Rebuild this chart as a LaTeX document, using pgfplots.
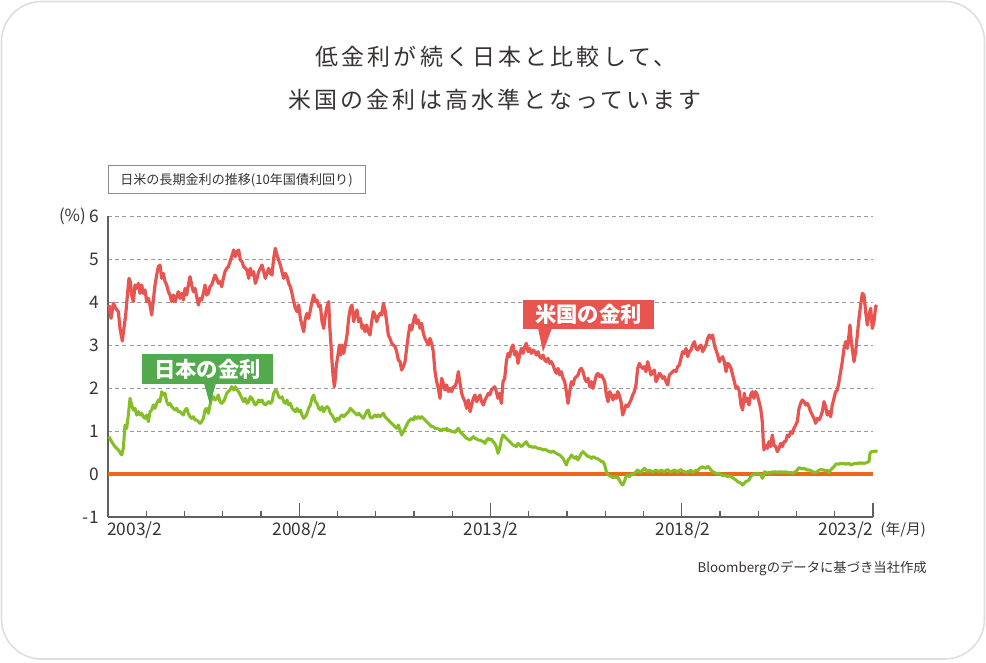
\documentclass[border=0pt]{standalone}
\usepackage{fontspec}
\setmainfont{Noto Sans CJK JP}
\newfontfamily\titlefont[LetterSpace=14]{Noto Sans CJK JP}
\usepackage{pgfplots}
\usepackage{pgfplotstable}
\pgfplotsset{compat=1.18}

\definecolor{usred}{RGB}{232,84,80}
\definecolor{jpgreen}{RGB}{133,190,38}
\definecolor{jplab}{RGB}{82,170,76}
\definecolor{zeroorange}{RGB}{234,104,24}
\definecolor{gridgray}{RGB}{155,155,155}
\definecolor{axisgray}{RGB}{100,95,95}
\definecolor{textgray}{RGB}{55,52,51}
\definecolor{boxgray}{RGB}{140,140,140}
\definecolor{cardgray}{RGB}{222,222,222}

\pgfplotstableread{
x y
2003.110 3.930
2003.162 3.620
2003.223 3.969
2003.284 3.853
2003.354 3.775
2003.397 3.387
2003.458 3.093
2003.510 3.465
2003.545 3.698
2003.598 4.240
2003.632 4.550
2003.667 4.473
2003.702 4.163
2003.746 4.008
2003.789 4.395
2003.833 4.318
2003.877 4.434
2003.920 4.201
2003.964 4.395
2004.007 4.201
2004.051 4.279
2004.094 4.008
2004.138 4.085
2004.182 3.930
2004.225 3.698
2004.269 4.046
2004.312 4.395
2004.356 4.628
2004.399 4.822
2004.443 4.860
2004.487 4.550
2004.530 4.667
2004.574 4.473
2004.617 4.395
2004.661 4.240
2004.704 4.163
2004.748 4.008
2004.792 4.163
2004.835 4.008
2004.879 4.124
2004.922 4.240
2004.966 4.085
2005.009 4.201
2005.053 4.046
2005.097 4.318
2005.140 4.163
2005.184 4.395
2005.227 4.589
2005.271 4.395
2005.314 4.240
2005.358 4.318
2005.402 4.124
2005.445 3.930
2005.489 4.085
2005.532 4.046
2005.576 4.201
2005.620 4.395
2005.663 4.163
2005.707 4.201
2005.750 4.356
2005.794 4.395
2005.837 4.512
2005.881 4.628
2005.925 4.550
2005.968 4.434
2006.012 4.473
2006.055 4.356
2006.099 4.550
2006.142 4.705
2006.186 4.783
2006.230 4.822
2006.273 4.938
2006.317 5.054
2006.369 5.209
2006.412 5.054
2006.456 5.170
2006.499 5.209
2006.543 4.977
2006.586 4.938
2006.630 4.822
2006.674 4.783
2006.717 4.744
2006.761 4.550
2006.804 4.783
2006.848 4.628
2006.891 4.705
2006.935 4.434
2006.979 4.550
2007.022 4.705
2007.066 4.783
2007.109 4.860
2007.153 4.705
2007.197 4.550
2007.240 4.667
2007.284 4.783
2007.327 4.667
2007.371 4.628
2007.414 5.015
2007.458 5.248
2007.502 5.093
2007.545 4.977
2007.589 4.860
2007.632 4.705
2007.676 4.550
2007.719 4.667
2007.763 4.589
2007.807 4.434
2007.850 4.356
2007.894 4.201
2007.937 4.008
2007.981 3.853
2008.024 3.775
2008.068 3.930
2008.112 3.620
2008.155 3.465
2008.199 3.310
2008.242 3.620
2008.286 3.736
2008.329 3.620
2008.373 3.814
2008.417 4.008
2008.460 4.163
2008.504 4.008
2008.547 4.046
2008.591 3.891
2008.634 3.930
2008.678 3.543
2008.722 3.387
2008.765 3.698
2008.809 3.891
2008.852 4.008
2008.878 3.465
2008.913 3.000
2008.940 2.612
2008.966 2.302
2009.000 2.031
2009.027 2.225
2009.053 2.535
2009.096 2.767
2009.131 3.000
2009.166 2.767
2009.201 3.000
2009.245 2.806
2009.288 3.000
2009.332 3.232
2009.375 3.620
2009.419 3.853
2009.462 3.930
2009.506 3.543
2009.550 3.736
2009.593 3.814
2009.637 3.543
2009.680 3.620
2009.724 3.387
2009.758 3.465
2009.802 3.310
2009.845 3.465
2009.889 3.310
2009.932 3.232
2009.976 3.543
2010.020 3.775
2010.063 3.698
2010.107 3.543
2010.150 3.659
2010.194 3.736
2010.237 3.698
2010.281 3.969
2010.325 3.814
2010.368 3.543
2010.412 3.232
2010.455 3.155
2010.499 3.039
2010.543 3.000
2010.586 2.961
2010.630 2.845
2010.673 2.651
2010.717 2.612
2010.760 2.418
2010.804 2.496
2010.848 2.612
2010.891 2.922
2010.935 3.232
2010.978 3.465
2011.022 3.349
2011.065 3.543
2011.109 3.698
2011.153 3.504
2011.196 3.581
2011.240 3.387
2011.283 3.504
2011.327 3.271
2011.370 3.155
2011.414 3.077
2011.458 3.000
2011.501 3.155
2011.545 3.039
2011.588 2.845
2011.632 2.380
2011.675 2.147
2011.719 1.992
2011.763 1.760
2011.806 2.225
2011.850 2.108
2011.893 1.953
2011.937 2.070
2011.980 1.915
2012.024 1.992
2012.068 1.915
2012.111 2.031
2012.155 2.031
2012.198 2.147
2012.242 2.380
2012.286 2.108
2012.329 1.876
2012.373 1.760
2012.416 1.682
2012.460 1.527
2012.503 1.721
2012.547 1.450
2012.591 1.605
2012.634 1.760
2012.678 1.837
2012.721 1.682
2012.765 1.760
2012.808 1.837
2012.852 1.682
2012.896 1.605
2012.939 1.721
2012.983 1.798
2013.026 1.876
2013.062 1.837
2013.105 1.953
2013.149 1.992
2013.192 2.031
2013.236 1.915
2013.279 1.760
2013.323 1.876
2013.367 1.643
2013.410 2.147
2013.454 2.225
2013.497 2.612
2013.541 2.806
2013.584 2.729
2013.628 2.922
2013.672 3.000
2013.715 2.767
2013.759 2.845
2013.802 2.573
2013.846 2.767
2013.890 2.922
2013.933 2.806
2013.977 2.961
2014.020 3.039
2014.064 2.845
2014.107 2.922
2014.151 2.806
2014.195 2.884
2014.238 2.845
2014.282 2.767
2014.325 2.845
2014.369 2.729
2014.412 2.690
2014.456 2.767
2014.500 2.651
2014.543 2.612
2014.587 2.690
2014.630 2.573
2014.674 2.612
2014.717 2.535
2014.761 2.418
2014.805 2.341
2014.848 2.457
2014.892 2.302
2014.935 2.380
2014.979 2.225
2015.022 2.147
2015.066 1.915
2015.110 1.643
2015.153 1.915
2015.197 2.147
2015.240 2.070
2015.284 2.225
2015.327 2.263
2015.371 2.302
2015.415 2.418
2015.458 2.457
2015.502 2.380
2015.545 2.225
2015.589 2.147
2015.633 2.225
2015.676 2.031
2015.720 2.147
2015.763 1.992
2015.807 2.147
2015.850 2.302
2015.894 2.341
2015.938 2.263
2015.981 2.302
2016.025 2.225
2016.068 2.147
2016.112 1.837
2016.155 1.682
2016.199 1.915
2016.243 1.837
2016.286 1.721
2016.330 1.837
2016.373 1.760
2016.408 1.915
2016.451 1.837
2016.495 1.682
2016.538 1.372
2016.582 1.488
2016.625 1.605
2016.669 1.566
2016.713 1.643
2016.756 1.721
2016.800 1.837
2016.843 1.915
2016.887 2.070
2016.930 2.457
2016.974 2.573
2017.018 2.496
2017.061 2.457
2017.105 2.496
2017.148 2.380
2017.192 2.612
2017.236 2.457
2017.279 2.302
2017.323 2.380
2017.366 2.418
2017.410 2.147
2017.453 2.225
2017.497 2.341
2017.541 2.302
2017.584 2.225
2017.628 2.263
2017.671 2.147
2017.715 2.070
2017.758 2.302
2017.802 2.341
2017.846 2.380
2017.889 2.418
2017.933 2.380
2017.976 2.496
2018.020 2.535
2018.063 2.690
2018.107 2.845
2018.151 2.806
2018.194 2.922
2018.238 2.729
2018.281 2.845
2018.325 2.884
2018.368 3.000
2018.412 3.077
2018.456 2.922
2018.499 2.884
2018.543 2.961
2018.586 3.000
2018.630 2.845
2018.673 2.922
2018.717 3.000
2018.761 3.155
2018.804 3.232
2018.848 3.155
2018.891 3.232
2018.935 3.000
2018.979 2.884
2019.022 2.767
2019.066 2.612
2019.109 2.690
2019.153 2.729
2019.196 2.612
2019.240 2.380
2019.284 2.573
2019.327 2.535
2019.371 2.457
2019.414 2.302
2019.458 2.147
2019.501 1.992
2019.545 2.031
2019.589 1.915
2019.632 1.605
2019.676 1.488
2019.719 1.876
2019.754 1.682
2019.797 1.760
2019.841 1.605
2019.884 1.837
2019.928 1.915
2019.971 1.760
2020.015 1.915
2020.059 1.837
2020.102 1.682
2020.146 1.527
2020.189 1.217
2020.215 0.752
2020.233 0.558
2020.276 0.674
2020.320 0.597
2020.364 0.752
2020.407 0.636
2020.451 0.907
2020.494 0.674
2020.538 0.636
2020.582 0.519
2020.625 0.597
2020.669 0.713
2020.712 0.636
2020.756 0.752
2020.799 0.752
2020.843 0.907
2020.887 0.868
2020.930 0.984
2020.974 0.946
2021.017 1.062
2021.061 1.139
2021.104 1.217
2021.148 1.527
2021.192 1.643
2021.235 1.721
2021.279 1.682
2021.322 1.605
2021.366 1.643
2021.409 1.566
2021.453 1.450
2021.497 1.372
2021.540 1.294
2021.584 1.178
2021.627 1.294
2021.671 1.256
2021.714 1.333
2021.758 1.450
2021.802 1.682
2021.845 1.566
2021.889 1.372
2021.932 1.450
2021.976 1.333
2022.019 1.605
2022.063 1.760
2022.107 1.915
2022.150 1.953
2022.194 2.147
2022.237 2.380
2022.281 2.612
2022.325 2.922
2022.368 3.077
2022.412 2.922
2022.455 3.232
2022.481 3.465
2022.516 3.077
2022.551 2.845
2022.586 2.612
2022.630 2.845
2022.673 3.232
2022.717 3.620
2022.760 3.930
2022.804 4.201
2022.847 4.163
2022.891 3.775
2022.935 3.465
2022.978 3.698
2023.022 3.853
2023.065 3.387
2023.109 3.543
2023.152 3.891
2023.179 3.930
}\usdata

\pgfplotstableread{
x y
2003.110 0.868
2003.179 0.752
2003.266 0.636
2003.354 0.558
2003.441 0.442
2003.484 0.597
2003.528 1.139
2003.571 1.062
2003.615 1.372
2003.659 1.760
2003.702 1.605
2003.746 1.488
2003.789 1.527
2003.833 1.372
2003.877 1.450
2003.920 1.372
2003.964 1.411
2004.007 1.333
2004.051 1.294
2004.094 1.372
2004.138 1.217
2004.182 1.450
2004.225 1.488
2004.269 1.605
2004.312 1.527
2004.356 1.643
2004.399 1.721
2004.443 1.682
2004.487 1.915
2004.530 1.837
2004.574 1.876
2004.617 1.682
2004.661 1.605
2004.704 1.643
2004.748 1.566
2004.792 1.527
2004.835 1.488
2004.879 1.527
2004.922 1.450
2004.966 1.450
2005.009 1.411
2005.053 1.372
2005.097 1.488
2005.140 1.527
2005.184 1.411
2005.227 1.333
2005.271 1.294
2005.314 1.333
2005.358 1.256
2005.402 1.256
2005.445 1.217
2005.489 1.178
2005.532 1.217
2005.576 1.294
2005.620 1.488
2005.663 1.527
2005.707 1.411
2005.750 1.605
2005.794 1.760
2005.837 1.798
2005.881 1.721
2005.925 1.760
2005.968 1.837
2006.012 1.682
2006.055 1.643
2006.099 1.682
2006.142 1.760
2006.186 1.876
2006.230 1.915
2006.273 1.953
2006.317 2.031
2006.369 1.953
2006.412 2.031
2006.456 1.953
2006.499 1.915
2006.543 1.837
2006.586 1.760
2006.630 1.682
2006.674 1.760
2006.717 1.643
2006.761 1.682
2006.804 1.798
2006.848 1.760
2006.891 1.682
2006.935 1.605
2006.979 1.643
2007.022 1.721
2007.066 1.682
2007.109 1.721
2007.153 1.643
2007.197 1.605
2007.240 1.643
2007.284 1.682
2007.327 1.643
2007.371 1.682
2007.414 1.876
2007.458 1.953
2007.502 1.915
2007.545 1.798
2007.589 1.760
2007.632 1.798
2007.676 1.682
2007.719 1.643
2007.763 1.721
2007.807 1.605
2007.850 1.643
2007.894 1.527
2007.937 1.488
2007.981 1.450
2008.024 1.527
2008.068 1.450
2008.112 1.488
2008.155 1.372
2008.199 1.294
2008.242 1.333
2008.286 1.411
2008.329 1.527
2008.373 1.605
2008.417 1.760
2008.460 1.837
2008.504 1.682
2008.547 1.643
2008.591 1.527
2008.634 1.488
2008.678 1.566
2008.722 1.450
2008.765 1.527
2008.809 1.566
2008.852 1.527
2008.896 1.411
2008.940 1.372
2008.983 1.294
2009.027 1.217
2009.070 1.294
2009.114 1.256
2009.158 1.333
2009.201 1.372
2009.245 1.333
2009.288 1.372
2009.332 1.411
2009.375 1.450
2009.419 1.527
2009.462 1.488
2009.506 1.450
2009.550 1.411
2009.593 1.372
2009.637 1.411
2009.680 1.372
2009.715 1.333
2009.758 1.294
2009.802 1.372
2009.845 1.450
2009.889 1.488
2009.932 1.333
2009.976 1.294
2010.020 1.333
2010.063 1.372
2010.107 1.333
2010.150 1.372
2010.194 1.333
2010.237 1.372
2010.281 1.411
2010.325 1.333
2010.368 1.294
2010.412 1.256
2010.455 1.217
2010.499 1.178
2010.543 1.139
2010.586 1.101
2010.630 1.062
2010.673 1.139
2010.717 1.023
2010.760 0.907
2010.804 0.984
2010.848 1.062
2010.891 1.139
2010.935 1.217
2010.978 1.256
2011.022 1.294
2011.065 1.256
2011.109 1.333
2011.153 1.294
2011.196 1.333
2011.240 1.294
2011.283 1.333
2011.327 1.294
2011.370 1.256
2011.414 1.217
2011.458 1.178
2011.501 1.139
2011.545 1.101
2011.588 1.101
2011.632 1.062
2011.675 1.062
2011.719 1.046
2011.763 1.023
2011.806 1.023
2011.850 1.046
2011.893 1.023
2011.937 1.062
2011.980 1.008
2012.024 1.023
2012.068 0.984
2012.111 0.984
2012.155 0.969
2012.198 1.023
2012.242 1.062
2012.286 0.984
2012.329 0.946
2012.373 0.907
2012.416 0.868
2012.460 0.829
2012.503 0.814
2012.547 0.790
2012.591 0.829
2012.634 0.868
2012.678 0.829
2012.721 0.814
2012.765 0.790
2012.808 0.790
2012.852 0.767
2012.896 0.752
2012.939 0.713
2012.983 0.790
2013.026 0.829
2013.062 0.790
2013.105 0.814
2013.149 0.752
2013.192 0.713
2013.236 0.636
2013.279 0.480
2013.323 0.597
2013.367 0.790
2013.410 0.907
2013.454 0.868
2013.497 0.829
2013.541 0.790
2013.584 0.752
2013.628 0.713
2013.672 0.674
2013.715 0.659
2013.759 0.636
2013.802 0.713
2013.846 0.674
2013.890 0.636
2013.933 0.674
2013.977 0.713
2014.020 0.752
2014.064 0.674
2014.107 0.636
2014.151 0.636
2014.195 0.620
2014.238 0.636
2014.282 0.612
2014.325 0.597
2014.369 0.597
2014.412 0.581
2014.456 0.558
2014.500 0.573
2014.543 0.558
2014.587 0.535
2014.630 0.519
2014.674 0.504
2014.717 0.535
2014.761 0.504
2014.805 0.480
2014.848 0.457
2014.892 0.442
2014.935 0.403
2014.979 0.364
2015.022 0.287
2015.066 0.209
2015.110 0.325
2015.153 0.364
2015.197 0.442
2015.240 0.403
2015.284 0.364
2015.327 0.403
2015.371 0.325
2015.415 0.403
2015.458 0.480
2015.502 0.519
2015.545 0.480
2015.589 0.442
2015.633 0.403
2015.676 0.403
2015.720 0.364
2015.763 0.403
2015.807 0.380
2015.850 0.364
2015.894 0.349
2015.938 0.325
2015.981 0.287
2016.025 0.287
2016.068 0.209
2016.112 0.054
2016.155 -0.023
2016.199 -0.039
2016.243 -0.062
2016.286 -0.085
2016.330 -0.062
2016.373 -0.085
2016.408 -0.062
2016.451 -0.140
2016.495 -0.217
2016.538 -0.256
2016.582 -0.178
2016.625 -0.062
2016.669 -0.023
2016.713 -0.062
2016.756 -0.008
2016.800 -0.023
2016.843 0.015
2016.887 0.054
2016.930 0.093
2016.974 0.054
2017.018 0.039
2017.061 0.093
2017.105 0.132
2017.148 0.093
2017.192 0.054
2017.236 0.093
2017.279 0.070
2017.323 0.039
2017.366 0.070
2017.410 0.093
2017.453 0.070
2017.497 0.054
2017.541 0.093
2017.584 0.070
2017.628 0.039
2017.671 0.085
2017.715 0.101
2017.758 0.070
2017.802 0.039
2017.846 0.070
2017.889 0.093
2017.933 0.070
2017.976 0.039
2018.020 0.085
2018.063 0.101
2018.107 0.070
2018.151 0.054
2018.194 0.039
2018.238 0.054
2018.281 0.070
2018.325 0.085
2018.368 0.039
2018.412 0.054
2018.456 0.093
2018.499 0.070
2018.543 0.132
2018.586 0.147
2018.630 0.170
2018.673 0.147
2018.717 0.132
2018.761 0.178
2018.804 0.147
2018.848 0.093
2018.891 0.054
2018.935 0.039
2018.979 0.008
2019.022 0.008
2019.066 0.015
2019.109 -0.008
2019.153 -0.039
2019.196 -0.023
2019.240 -0.039
2019.284 -0.062
2019.327 -0.039
2019.371 -0.062
2019.414 -0.085
2019.458 -0.116
2019.501 -0.140
2019.545 -0.178
2019.589 -0.194
2019.632 -0.217
2019.676 -0.260
2019.719 -0.217
2019.754 -0.178
2019.797 -0.163
2019.841 -0.140
2019.884 -0.062
2019.928 -0.023
2019.971 -0.008
2020.015 0.015
2020.059 -0.008
2020.102 0.008
2020.146 -0.023
2020.189 -0.101
2020.215 -0.062
2020.250 0.054
2020.320 0.015
2020.364 0.039
2020.407 0.015
2020.451 0.054
2020.494 0.039
2020.538 0.054
2020.582 0.031
2020.625 0.054
2020.669 0.039
2020.712 0.054
2020.756 0.031
2020.799 0.054
2020.843 0.039
2020.887 0.031
2020.930 0.039
2020.974 0.015
2021.017 0.039
2021.061 0.054
2021.104 0.093
2021.148 0.147
2021.192 0.132
2021.235 0.116
2021.279 0.132
2021.322 0.108
2021.366 0.093
2021.409 0.093
2021.453 0.085
2021.497 0.054
2021.540 0.039
2021.584 0.039
2021.627 0.054
2021.671 0.085
2021.714 0.108
2021.758 0.093
2021.802 0.093
2021.845 0.070
2021.889 0.085
2021.932 0.039
2021.976 0.093
2022.019 0.132
2022.063 0.170
2022.107 0.225
2022.150 0.240
2022.194 0.225
2022.237 0.248
2022.281 0.240
2022.325 0.248
2022.368 0.225
2022.412 0.240
2022.455 0.248
2022.499 0.209
2022.542 0.225
2022.586 0.240
2022.630 0.248
2022.673 0.240
2022.717 0.263
2022.760 0.248
2022.804 0.256
2022.847 0.248
2022.891 0.256
2022.935 0.271
2022.978 0.287
2023.004 0.480
2023.039 0.519
2023.091 0.519
2023.152 0.535
2023.196 0.519
}\jpdata

\begin{document}
\begin{tikzpicture}
\useasboundingbox (0,0) rectangle (739.5pt,496.5pt);
\begin{scope}[x=0.75pt,y=-0.75pt,yshift=496.5pt]
  \draw[cardgray, line width=1.2pt, rounded corners=30pt, fill=white] (1.5,1.5) rectangle (984.5,659);
\end{scope}

\begin{axis}[
  at={(81pt,108.75pt)}, anchor=south west,
  scale only axis, width=573.75pt, height=225.75pt,
  xmin=2003.083, xmax=2023.083, ymin=-1, ymax=6,
  axis x line*=bottom, axis y line*=left,
  axis line style={-, draw=axisgray, line width=1pt},
  xtick={2003.083,2008.083,2013.083,2018.083,2023.083},
  minor xtick={2004.083,2005.083,2006.083,2007.083,2009.083,2010.083,2011.083,2012.083,2014.083,2015.083,2016.083,2017.083,2019.083,2020.083,2021.083,2022.083},
  xticklabels={},
  tick align=inside,
  major tick length=10.5pt, minor tick length=4.5pt,
  xtick style={draw=axisgray, line width=0.8pt},
  ytick={-1,0,1,2,3,4,5,6},
  yticklabels={-1,0,1,2,3,4,5,6},
  ytick style={draw=none},
  yticklabel style={font=\fontsize{13}{15}\selectfont, text=textgray, xshift=-3.5pt},
  ymajorgrids,
  grid style={draw=gridgray, line width=0.75pt, dash pattern=on 3pt off 2.4pt},
  clip=false,
]
\addplot[zeroorange, line width=2.4pt] coordinates {(2003.083,0) (2023.083,0)};
\addplot[jpgreen, line width=2.3pt, line join=round] table[x=x,y=y] {\jpdata};
\addplot[usred, line width=2.4pt, line join=round] table[x=x,y=y] {\usdata};
\end{axis}

\begin{scope}[x=0.75pt,y=-0.75pt,yshift=496.5pt]
  % title
  \node[text=textgray, font=\titlefont\fontsize{17.2}{19}\selectfont] at (496,57) {低金利が続く日本と比較して、};
  \node[text=textgray, font=\titlefont\fontsize{17.2}{19}\selectfont] at (495,100) {米国の金利は高水準となっています};
  % subtitle box
  \draw[boxgray, line width=0.75pt] (108,166) rectangle (365,194);
  \node[text=textgray, font=\fontsize{9.8}{11}\selectfont] at (236.5,180) {日米の長期金利の推移(10年国債利回り)};
  % unit
  \node[text=textgray, font=\fontsize{12.5}{14}\selectfont, anchor=east, inner sep=0pt] at (86,216) {(\%)};
  % x tick labels
  \begin{scope}[every node/.style={text=textgray, font=\fontsize{13}{15}\selectfont, inner sep=0pt}]
    \node[anchor=west] at (107,530) {2003/2};
    \node at (300,530) {2008/2};
    \node at (491,530) {2013/2};
    \node at (683,530) {2018/2};
    \node at (846,530) {2023/2};
    \node[anchor=east, font=\fontsize{11}{13}\selectfont] at (926,530) {(年/月)};
  \end{scope}
  % source
  \node[text=textgray, font=\fontsize{10}{12}\selectfont, anchor=east, inner sep=0pt] at (927,568) {Bloombergのデータに基づき当社作成};
  % US label
  \fill[usred] (523,300) rectangle (654,329);
  \fill[usred] (538,328) -- (552,328) -- (543,352) -- cycle;
  \node[text=white, font=\bfseries\fontsize{16}{18}\selectfont] at (588.5,314.5) {米国の金利};
  % JP label
  \fill[jplab] (142,354) rectangle (273,384);
  \fill[jplab] (204,383) -- (216,383) -- (210,405) -- cycle;
  \node[text=white, font=\bfseries\fontsize{16}{18}\selectfont] at (207.5,369) {日本の金利};
\end{scope}
\end{tikzpicture}
\end{document}
